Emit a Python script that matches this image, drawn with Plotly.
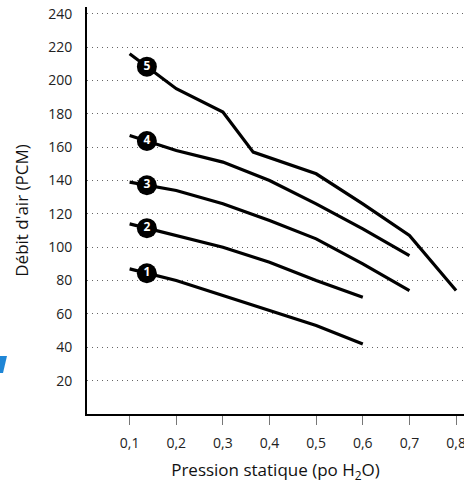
import numpy as np
import plotly.graph_objects as go

# Data
pressure_1 = [0.1, 0.2, 0.3, 0.4, 0.5, 0.6]
flow_1 = [87, 80, 71, 62, 53, 42]
pressure_2 = [0.1, 0.2, 0.3, 0.4, 0.5, 0.6]
flow_2 = [114, 107, 100, 91, 80, 70]
pressure_3 = [0.1, 0.2, 0.3, 0.4, 0.5, 0.6, 0.7]
flow_3 = [139, 134, 126, 116, 105, 90, 74]
pressure_4 = [0.1, 0.2, 0.3, 0.4, 0.5, 0.6, 0.7]
flow_4 = [167, 158, 151, 140, 126, 111, 95]
pressure_5 = [0.1, 0.2, 0.3, 0.365, 0.5, 0.6, 0.7, 0.8]
flow_5 = [216, 195, 181, 157, 144, 126, 107, 74]

curve_labels = ["1", "2", "3", "4", "5"]
label_pressure = 0.137

x_tickvals = [0.1, 0.2, 0.3, 0.4, 0.5, 0.6, 0.7, 0.8]
x_ticktext = ["0,1", "0,2", "0,3", "0,4", "0,5", "0,6", "0,7", "0,8"]
y_tickvals = [20, 40, 60, 80, 100, 120, 140, 160, 180, 200, 220, 240]

series = [(pressure_1, flow_1), (pressure_2, flow_2), (pressure_3, flow_3),
          (pressure_4, flow_4), (pressure_5, flow_5)]

FONT = "Open Sans"
W, H = 464, 483
ML, MR, MT, MB = 87, 0, 7, 69
fig = go.Figure()

for xs, ys in series:
    fig.add_trace(go.Scatter(x=xs, y=ys, mode="lines",
                             line=dict(color="black", width=3.2),
                             hoverinfo="skip", showlegend=False))

label_y = [float(np.interp(label_pressure, xs, ys)) for xs, ys in series]
fig.add_trace(go.Scatter(
    x=[label_pressure] * len(curve_labels), y=label_y,
    mode="markers+text", text=curve_labels, textposition="middle center",
    marker=dict(size=20, color="black", line=dict(width=0)),
    textfont=dict(family=FONT, size=12, color="white", weight="bold"),
    hoverinfo="skip", showlegend=False))


def px_to_paper(px, py):
    return ((px - ML) / (W - ML - MR), (H - MB - py) / (H - MT - MB))


# small clipped blue logo fragment at the left edge
pts = [px_to_paper(*p) for p in [(0, 356), (7, 356), (3, 373), (0, 373)]]
path = "M " + " L ".join(f"{x:.4f},{y:.4f}" for x, y in pts) + " Z"

fig.update_layout(
    width=W, height=H,
    margin=dict(l=ML, r=MR, t=MT, b=MB, autoexpand=False),
    paper_bgcolor="white", plot_bgcolor="white",
    font=dict(family=FONT, color="#222222"),
    shapes=[dict(type="path", path=path, xref="paper", yref="paper",
                 fillcolor="#1f86d6", line=dict(width=0), layer="above")],
)
fig.update_xaxes(
    range=[0.0086, 0.817], tickvals=x_tickvals, ticktext=x_ticktext,
    automargin=False, ticklabeloverflow="allow",
    showgrid=False, zeroline=False,
    showline=True, linecolor="black", linewidth=2,
    ticks="outside", ticklen=9, tickwidth=1, tickcolor="#777777",
    ticklabelstandoff=6,
    tickfont=dict(size=14, color="#222222"),
    title=dict(text="Pression statique (po H<sub>2</sub>O)",
               font=dict(size=17, color="#111111"), standoff=14),
)
fig.update_yaxes(
    range=[0, 244], tickvals=y_tickvals,
    automargin=False,
    showgrid=True, gridcolor="#666666", gridwidth=1, griddash="1px,4px",
    zeroline=False,
    showline=True, linecolor="black", linewidth=2,
    ticks="", ticklabelstandoff=10,
    tickfont=dict(size=14, color="#222222"),
    title=dict(text="Débit d'air (PCM)",
               font=dict(size=17, color="#111111"), standoff=15),
)

fig.write_html("out.html", config={"displayModeBar": False},
               post_script="document.body.style.margin='0';document.body.style.overflow='hidden';")
